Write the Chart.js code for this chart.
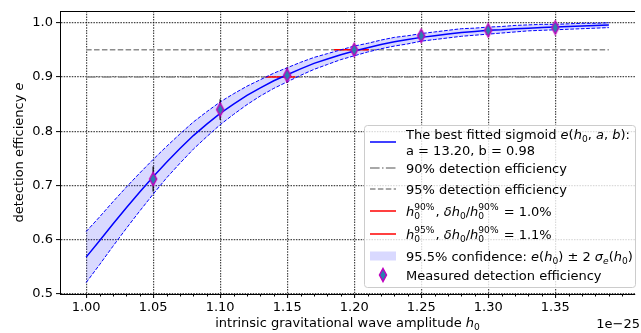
<!DOCTYPE html>
<html>
<head>
<meta charset="utf-8">
<title>Detection efficiency vs h0</title>
<script src="https://cdn.jsdelivr.net/npm/chart.js@4.4.1/dist/chart.umd.min.js"></script>
<style>
  html, body { margin: 0; padding: 0; background: #fff; }
  canvas { display: block; }
</style>
</head>
<body>
<canvas id="effChart" width="641" height="333"></canvas>
<script>
// --- DATA (h0 in units of 1e-25) ---
const curveH = [1.00, 1.01, 1.02, 1.03, 1.04, 1.05, 1.06, 1.07, 1.08, 1.09,
                1.10, 1.11, 1.12, 1.13, 1.14, 1.15, 1.16, 1.17, 1.18, 1.19,
                1.20, 1.21, 1.22, 1.23, 1.24, 1.25, 1.26, 1.27, 1.28, 1.29,
                1.30, 1.31, 1.32, 1.33, 1.34, 1.35, 1.36, 1.37, 1.38, 1.39];
const curveE = [0.568, 0.598, 0.629, 0.659, 0.688, 0.716, 0.743, 0.768, 0.792, 0.813,
                0.833, 0.850, 0.866, 0.880, 0.893, 0.904, 0.915, 0.925, 0.933, 0.941,
                0.948, 0.954, 0.960, 0.965, 0.969, 0.973, 0.976, 0.979, 0.982, 0.984,
                0.986, 0.987, 0.989, 0.990, 0.991, 0.992, 0.993, 0.994, 0.995, 0.996];
const bandUpper = [0.615, 0.642, 0.670, 0.697, 0.723, 0.748, 0.772, 0.795, 0.817, 0.836,
                   0.854, 0.869, 0.883, 0.895, 0.907, 0.917, 0.927, 0.936, 0.943, 0.950,
                   0.957, 0.962, 0.968, 0.973, 0.976, 0.980, 0.983, 0.986, 0.989, 0.990,
                   0.992, 0.993, 0.995, 0.996, 0.997, 0.997, 0.998, 0.999, 0.999, 1.000];
const bandLower = [0.521, 0.554, 0.588, 0.621, 0.653, 0.684, 0.714, 0.741, 0.767, 0.790,
                   0.812, 0.831, 0.849, 0.865, 0.879, 0.891, 0.903, 0.914, 0.923, 0.932,
                   0.939, 0.946, 0.952, 0.957, 0.961, 0.966, 0.969, 0.972, 0.975, 0.977,
                   0.979, 0.981, 0.983, 0.985, 0.986, 0.987, 0.988, 0.989, 0.990, 0.991];

const measH = [1.05, 1.10, 1.15, 1.20, 1.25, 1.30, 1.35];
const measE = [0.712, 0.840, 0.903, 0.950, 0.976, 0.986, 0.991];
const measErr = [0.023, 0.019, 0.014, 0.010, 0.007, 0.005, 0.004];

const refSpan = [1.00, 1.39];
const level90 = 0.90;
const level95 = 0.95;
const h90Span = [1.134, 1.156];
const h95Span = [1.185, 1.211];

const xMajor = [1.00, 1.05, 1.10, 1.15, 1.20, 1.25, 1.30, 1.35];
const xMinor = [1.01, 1.02, 1.03, 1.04, 1.06, 1.07, 1.08, 1.09, 1.11, 1.12, 1.13, 1.14,
                1.16, 1.17, 1.18, 1.19, 1.21, 1.22, 1.23, 1.24, 1.26, 1.27, 1.28, 1.29,
                1.31, 1.32, 1.33, 1.34, 1.36, 1.37, 1.38, 1.39, 1.40];
const yTicks = [0.5, 0.6, 0.7, 0.8, 0.9, 1.0];

// --- STYLE CONSTANTS ---
const FONT = '"DejaVu Sans", sans-serif';
const FS = 13;
const GRID = 'rgba(0,0,0,0.72)';
const BLUE = '#0000ff';
const GRAY = '#8c8c8c';

// thin diamond marker, blue face + magenta edge
function makeDiamond() {
    const c = document.createElement('canvas');
    c.width = 10; c.height = 16;
    const g = c.getContext('2d');
    g.beginPath();
    g.moveTo(5, 1.5); g.lineTo(8.5, 8); g.lineTo(5, 14.5); g.lineTo(1.5, 8);
    g.closePath();
    g.fillStyle = '#2a7fb0'; g.fill();
    g.lineWidth = 1.5; g.strokeStyle = '#bf00bf'; g.stroke();
    return c;
}
const diamond = makeDiamond();

// --- helpers ---
const pts = (xs, ys) => xs.map((x, i) => ({ x: x, y: ys[i] }));
const hline = (span, y) => [{ x: span[0], y: y }, { x: span[1], y: y }];

function errPoints() {
    const out = [];
    measH.forEach((h, i) => {
        out.push({ x: h, y: measE[i] - measErr[i] });
        out.push({ x: h, y: measE[i] + measErr[i] });
        out.push({ x: h, y: null });
    });
    return out;
}

function lineSet(data, color, width, dash, extra) {
    return Object.assign({ data: data, borderColor: color, borderWidth: width,
        borderDash: dash || [], pointRadius: 0, fill: false, tension: 0 }, extra || {});
}

function fontOf(size, italic) { return (italic ? 'italic ' : '') + size + 'px ' + FONT; }

// draws a run list of plain / italic / sub / sup pieces, returns width
function richText(ctx, x, base, runs, draw) {
    let cx = x;
    const small = FS * 0.7;
    ctx.textAlign = 'left';
    ctx.textBaseline = 'alphabetic';
    runs.forEach(r => {
        if (r.hi !== undefined) {
            ctx.font = fontOf(small, false);
            const w = Math.max(ctx.measureText(r.hi).width, ctx.measureText(r.lo).width);
            if (draw) { ctx.fillText(r.hi, cx, base - 5.5); ctx.fillText(r.lo, cx, base + 3); }
            cx += w + 1;
            return;
        }
        const isSmall = r.sub || r.sup;
        ctx.font = fontOf(isSmall ? small : FS, r.it);
        const dy = r.sub ? 3 : (r.sup ? -5.5 : 0);
        if (draw) ctx.fillText(r.t, cx, base + dy);
        cx += ctx.measureText(r.t).width;
    });
    return cx - x;
}

const N = t => ({ t: t });
const I = t => ({ t: t, it: true });
const SUB = t => ({ t: t, sub: true });
const ISUB = t => ({ t: t, sub: true, it: true });
const STACK = (hi, lo) => ({ hi: hi, lo: lo });

// --- custom drawing: frame, minor ticks, titles, legend ---
const decorPlugin = {
    id: 'decor',
    afterDraw(chart) {
        const ctx = chart.ctx;
        const a = chart.chartArea;
        const xs = chart.scales.x;
        ctx.save();
        ctx.fillStyle = '#000';
        ctx.strokeStyle = '#000';
        ctx.lineWidth = 1;

        // top spine
        ctx.beginPath();
        ctx.moveTo(a.left, Math.round(a.top) + 0.5);
        ctx.lineTo(a.right, Math.round(a.top) + 0.5);
        ctx.stroke();

        // minor x ticks
        xMinor.forEach(v => {
            const px = Math.round(xs.getPixelForValue(v)) + 0.5;
            ctx.beginPath();
            ctx.moveTo(px, a.bottom);
            ctx.lineTo(px, a.bottom + 2.5);
            ctx.stroke();
        });

        // x axis title + offset text
        const xRuns = [N('intrinsic gravitational wave amplitude '), I('h'), SUB('0')];
        const wx = richText(ctx, 0, 0, xRuns, false);
        richText(ctx, (a.left + a.right) / 2 - wx / 2, 327, xRuns, true);
        ctx.font = fontOf(FS, false);
        ctx.textAlign = 'right';
        ctx.fillText('1e\u221225', 640, 328);

        // y axis title
        const yRuns = [N('detection efficiency '), I('e')];
        const wy = richText(ctx, 0, 0, yRuns, false);
        ctx.save();
        ctx.translate(18, (a.top + a.bottom) / 2);
        ctx.rotate(-Math.PI / 2);
        richText(ctx, -wy / 2, 4.7, yRuns, true);
        ctx.restore();

        drawLegend(ctx);
        ctx.restore();
    }
};

function drawLegend(ctx) {
    const L = 364, T = 125, W = 271, H = 162;
    ctx.save();
    ctx.beginPath();
    ctx.roundRect(L + 0.5, T + 0.5, W, H, 3);
    ctx.fillStyle = 'rgba(255,255,255,0.8)';
    ctx.fill();
    ctx.strokeStyle = '#cccccc';
    ctx.lineWidth = 1;
    ctx.stroke();

    const hx0 = 370, hx1 = 396, tx = 406;
    const seg = (y, color, width, dash) => {
        ctx.beginPath();
        ctx.setLineDash(dash);
        ctx.strokeStyle = color; ctx.lineWidth = width;
        ctx.moveTo(hx0, y); ctx.lineTo(hx1, y); ctx.stroke();
        ctx.setLineDash([]);
    };
    ctx.fillStyle = '#000';
    const base = c => c + 4.7;

    seg(142, BLUE, 1.5, []);
    richText(ctx, tx, base(134), [N('The best fitted sigmoid '), I('e'), N('('), I('h'), SUB('0'),
        N(', '), I('a'), N(', '), I('b'), N('):')], true);
    richText(ctx, tx, base(150), [N('a = 13.20, b = 0.98')], true);

    seg(168, GRAY, 1.5, [9.6, 2.4, 1.5, 2.4]);
    richText(ctx, tx, base(168), [N('90% detection efficiency')], true);

    seg(189, GRAY, 1.5, [5.5, 2.4]);
    richText(ctx, tx, base(189), [N('95% detection efficiency')], true);

    seg(211, '#ff0000', 1.5, []);
    richText(ctx, tx, base(211), [I('h'), STACK('90%', '0'), N(', '), I('\u03b4h'), SUB('0'), N('/'),
        I('h'), STACK('90%', '0'), N(' = 1.0%')], true);

    seg(234, '#ff0000', 1.5, []);
    richText(ctx, tx, base(234), [I('h'), STACK('95%', '0'), N(', '), I('\u03b4h'), SUB('0'), N('/'),
        I('h'), STACK('90%', '0'), N(' = 1.1%')], true);

    ctx.fillStyle = 'rgba(0,0,255,0.15)';
    ctx.fillRect(hx0, 251.5, hx1 - hx0, 9);
    ctx.fillStyle = '#000';
    richText(ctx, tx, base(256), [N('95.5% confidence: '), I('e'), N('('), I('h'), SUB('0'), N(') \u00b1 2 '),
        I('\u03c3'), ISUB('e'), N('('), I('h'), SUB('0'), N(')')], true);

    ctx.drawImage(diamond, 383 - diamond.width / 2, 275 - diamond.height / 2);
    richText(ctx, tx, base(275), [N('Measured detection efficiency')], true);
    ctx.restore();
}

// --- CHART ---
const tickFont = { family: FONT, size: FS };

new Chart(document.getElementById('effChart').getContext('2d'), {
    type: 'line',
    data: {
        datasets: [
            lineSet(pts(measH, measE), 'transparent', 0, [], {
                showLine: false, pointStyle: diamond, pointRadius: 6 }),
            lineSet(errPoints(), '#000', 1.2, [], { spanGaps: false }),
            lineSet(pts(curveH, curveE), BLUE, 1.5),
            lineSet(pts(curveH, bandUpper), BLUE, 1, [3.7, 1.6], {
                fill: '+1', backgroundColor: 'rgba(0,0,255,0.15)' }),
            lineSet(pts(curveH, bandLower), BLUE, 1, [3.7, 1.6]),
            lineSet(hline(h90Span, level90), '#ff0000', 1.5),
            lineSet(hline(h95Span, level95), '#ff0000', 1.5),
            lineSet(hline(refSpan, level90), GRAY, 1.5, [9.6, 2.4, 1.5, 2.4]),
            lineSet(hline(refSpan, level95), GRAY, 1.5, [5.5, 2.4])
        ]
    },
    options: {
        responsive: false,
        animation: false,
        devicePixelRatio: 1,
        layout: { padding: { top: 11, left: 0, right: 0, bottom: 0 } },
        plugins: {
            legend: { display: false },
            tooltip: { enabled: false },
            filler: { drawTime: 'beforeDatasetsDraw' }
        },
        scales: {
            x: {
                type: 'linear', min: 0.9805, max: 1.4095,
                afterFit: s => { s.height = 39; },
                afterBuildTicks: s => { s.ticks = xMajor.map(v => ({ value: v })); },
                ticks: { callback: v => Number(v).toFixed(2), color: '#000', font: tickFont,
                         padding: 2, autoSkip: false, maxRotation: 0 },
                grid: { color: GRID, lineWidth: 1.2, tickLength: 4, tickColor: '#000', tickWidth: 1 },
                border: { color: '#000', width: 1, dash: [1.5, 1.2] }
            },
            y: {
                type: 'linear', min: 0.5, max: 1.0216,
                afterFit: s => { s.width = 60; },
                afterBuildTicks: s => { s.ticks = yTicks.map(v => ({ value: v })); },
                ticks: { callback: v => Number(v).toFixed(1), color: '#000', font: tickFont,
                         padding: 3, autoSkip: false },
                grid: { color: GRID, lineWidth: 1.2, tickLength: 4, tickColor: '#000', tickWidth: 1 },
                border: { color: '#000', width: 1, dash: [1.5, 1.2] }
            }
        }
    },
    plugins: [decorPlugin]
});
</script>
</body>
</html>
